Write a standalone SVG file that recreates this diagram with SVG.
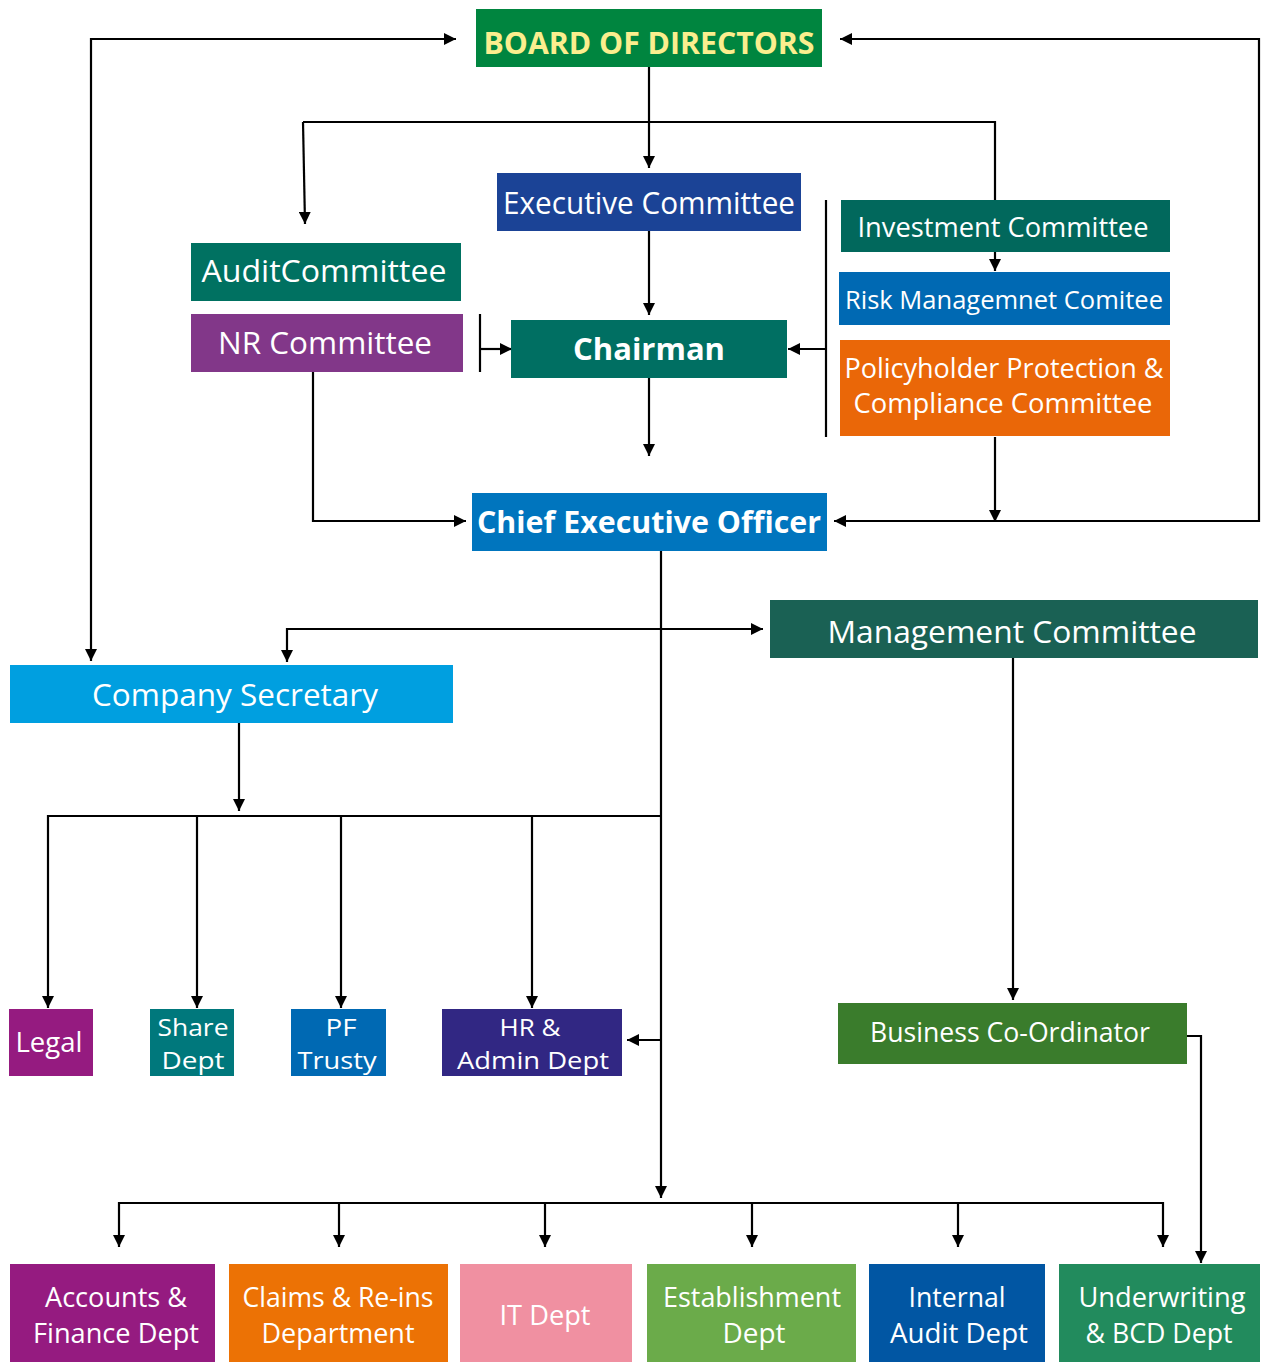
<svg xmlns="http://www.w3.org/2000/svg" width="1261" height="1362" viewBox="0 0 1261 1362">
<style>
text{font-family:"Open Sans","Noto Sans","Liberation Sans",sans-serif;fill:#fff;text-anchor:middle}
.b{font-weight:bold}
.c{fill:none;stroke:#000;stroke-width:2.2}
.a{marker-end:url(#ah)}
.aa{marker-start:url(#ah);marker-end:url(#ah)}
</style>
<defs>
<marker id="ah" markerUnits="userSpaceOnUse" markerWidth="13" markerHeight="12" refX="12" refY="6" orient="auto-start-reverse" viewBox="0 0 13 12">
<path d="M0,0 L12,6 L0,12 z" fill="#000"/>
</marker>
</defs>
<rect width="1261" height="1362" fill="#fff"/>
<g id="connectors">
<path class="c a" d="M649,67 V168"/>
<path class="c" d="M303,122 H995 V200"/>
<path class="c a" d="M303,122 L305,224"/>
<path class="c a" d="M995,252 V271"/>
<path class="c a" d="M649,231 V315"/>
<path class="c" d="M480,314 V372"/>
<path class="c a" d="M480,349 H512"/>
<path class="c" d="M826,200 V437"/>
<path class="c a" d="M826,349 H788"/>
<path class="c a" d="M649,378 V456"/>
<path class="c a" d="M995,437 V522"/>
<path class="c a" d="M313,372 V521 H466"/>
<path class="c aa" d="M834,521 H1259 V39 H840"/>
<path class="c aa" d="M456,39 H91 V661"/>
<path class="c a" d="M661,551 V1198"/>
<path class="c aa" d="M287,662 V629 H763"/>
<path class="c a" d="M239,723 V811"/>
<path class="c a" d="M661,816 H48 V1008"/>
<path class="c a" d="M197,816 V1008"/>
<path class="c a" d="M341,816 V1008"/>
<path class="c a" d="M532,816 V1008"/>
<path class="c a" d="M661,1040 H627"/>
<path class="c a" d="M1013,658 V1000"/>
<path class="c a" d="M1187,1036 H1201 V1263"/>
<path class="c aa" d="M119,1247 V1203 H1163 V1247"/>
<path class="c a" d="M339,1203 V1247"/>
<path class="c a" d="M545,1203 V1247"/>
<path class="c a" d="M752,1203 V1247"/>
<path class="c a" d="M958,1203 V1247"/>
</g>
<g id="board"><rect x="476" y="9" width="346" height="58" fill="#00853f"/><text class="b" x="649" y="54" font-size="31" style="fill:#fbee8e" textLength="331" lengthAdjust="spacingAndGlyphs">BOARD OF DIRECTORS</text></g>
<g id="exec"><rect x="497" y="173" width="304" height="58" fill="#1b4396"/><text x="649" y="214" font-size="31" textLength="292" lengthAdjust="spacingAndGlyphs">Executive Committee</text></g>
<g id="audit"><rect x="191" y="243" width="270" height="58" fill="#007161"/><text x="324" y="282" font-size="31" textLength="245" lengthAdjust="spacingAndGlyphs">AuditCommittee</text></g>
<g id="nr"><rect x="191" y="314" width="272" height="58" fill="#823789"/><text x="325" y="354" font-size="31" textLength="214" lengthAdjust="spacingAndGlyphs">NR Committee</text></g>
<g id="chairman"><rect x="511" y="320" width="276" height="58" fill="#006f62"/><text class="b" x="649" y="360" font-size="31" textLength="152" lengthAdjust="spacingAndGlyphs">Chairman</text></g>
<g id="investment"><rect x="841" y="200" width="329" height="52" fill="#01685c"/><text x="1003" y="237" font-size="27" textLength="291" lengthAdjust="spacingAndGlyphs">Investment Committee</text></g>
<g id="risk"><rect x="839" y="272" width="331" height="53" fill="#0069b3"/><text x="1004" y="309" font-size="26" textLength="318" lengthAdjust="spacingAndGlyphs">Risk Managemnet Comitee</text></g>
<g id="policy"><rect x="840" y="340" width="330" height="96" fill="#ea6708"/><text x="1004" y="378" font-size="27" textLength="319" lengthAdjust="spacingAndGlyphs">Policyholder Protection &amp;</text><text x="1003" y="413" font-size="27" textLength="299" lengthAdjust="spacingAndGlyphs">Compliance Committee</text></g>
<g id="ceo"><rect x="472" y="493" width="355" height="58" fill="#0075be"/><text class="b" x="649" y="533" font-size="31" textLength="344" lengthAdjust="spacingAndGlyphs">Chief Executive Officer</text></g>
<g id="mgmt"><rect x="770" y="600" width="488" height="58" fill="#1a6154"/><text x="1012" y="643" font-size="31" textLength="369" lengthAdjust="spacingAndGlyphs">Management Committee</text></g>
<g id="secretary"><rect x="10" y="665" width="443" height="58" fill="#009fe0"/><text x="235" y="706" font-size="31" textLength="286" lengthAdjust="spacingAndGlyphs">Company Secretary</text></g>
<g id="legal"><rect x="9" y="1009" width="84" height="67" fill="#951b80"/><text x="49" y="1052" font-size="28" textLength="67" lengthAdjust="spacingAndGlyphs">Legal</text></g>
<g id="share"><rect x="150" y="1009" width="84" height="67" fill="#00787c"/><text x="193" y="1036" font-size="24" textLength="71" lengthAdjust="spacingAndGlyphs">Share</text><text x="193" y="1069" font-size="24" textLength="63" lengthAdjust="spacingAndGlyphs">Dept</text></g>
<g id="pf"><rect x="291" y="1009" width="95" height="67" fill="#0069b3"/><text x="341" y="1036" font-size="24" textLength="31" lengthAdjust="spacingAndGlyphs">PF</text><text x="337" y="1069" font-size="24" textLength="79" lengthAdjust="spacingAndGlyphs">Trusty</text></g>
<g id="hr"><rect x="442" y="1009" width="180" height="67" fill="#312783"/><text x="530" y="1036" font-size="24" textLength="61" lengthAdjust="spacingAndGlyphs">HR &amp;</text><text x="533" y="1069" font-size="24" textLength="152" lengthAdjust="spacingAndGlyphs">Admin Dept</text></g>
<g id="bco"><rect x="838" y="1003" width="349" height="61" fill="#3a7c2c"/><text x="1010" y="1042" font-size="27" textLength="280" lengthAdjust="spacingAndGlyphs">Business Co-Ordinator</text></g>
<g id="accounts"><rect x="10" y="1264" width="205" height="98" fill="#951b80"/><text x="116" y="1307" font-size="28" textLength="142" lengthAdjust="spacingAndGlyphs">Accounts &amp;</text><text x="116" y="1343" font-size="28" textLength="166" lengthAdjust="spacingAndGlyphs">Finance Dept</text></g>
<g id="claims"><rect x="229" y="1264" width="219" height="98" fill="#ec7205"/><text x="338" y="1307" font-size="28" textLength="191" lengthAdjust="spacingAndGlyphs">Claims &amp; Re-ins</text><text x="338" y="1343" font-size="28" textLength="153" lengthAdjust="spacingAndGlyphs">Department</text></g>
<g id="it"><rect x="460" y="1264" width="172" height="98" fill="#f090a1"/><text x="545" y="1325" font-size="28" textLength="91" lengthAdjust="spacingAndGlyphs">IT Dept</text></g>
<g id="establishment"><rect x="647" y="1264" width="209" height="98" fill="#6bab4a"/><text x="752" y="1307" font-size="28" textLength="178" lengthAdjust="spacingAndGlyphs">Establishment</text><text x="754" y="1343" font-size="28" textLength="63" lengthAdjust="spacingAndGlyphs">Dept</text></g>
<g id="internal"><rect x="869" y="1264" width="176" height="98" fill="#0156a3"/><text x="957" y="1307" font-size="28" textLength="97" lengthAdjust="spacingAndGlyphs">Internal</text><text x="959" y="1343" font-size="28" textLength="138" lengthAdjust="spacingAndGlyphs">Audit Dept</text></g>
<g id="underwriting"><rect x="1059" y="1264" width="201" height="98" fill="#228b5d"/><text x="1162" y="1307" font-size="28" textLength="167" lengthAdjust="spacingAndGlyphs">Underwriting</text><text x="1159" y="1343" font-size="28" textLength="147" lengthAdjust="spacingAndGlyphs">&amp; BCD Dept</text></g>
</svg>
